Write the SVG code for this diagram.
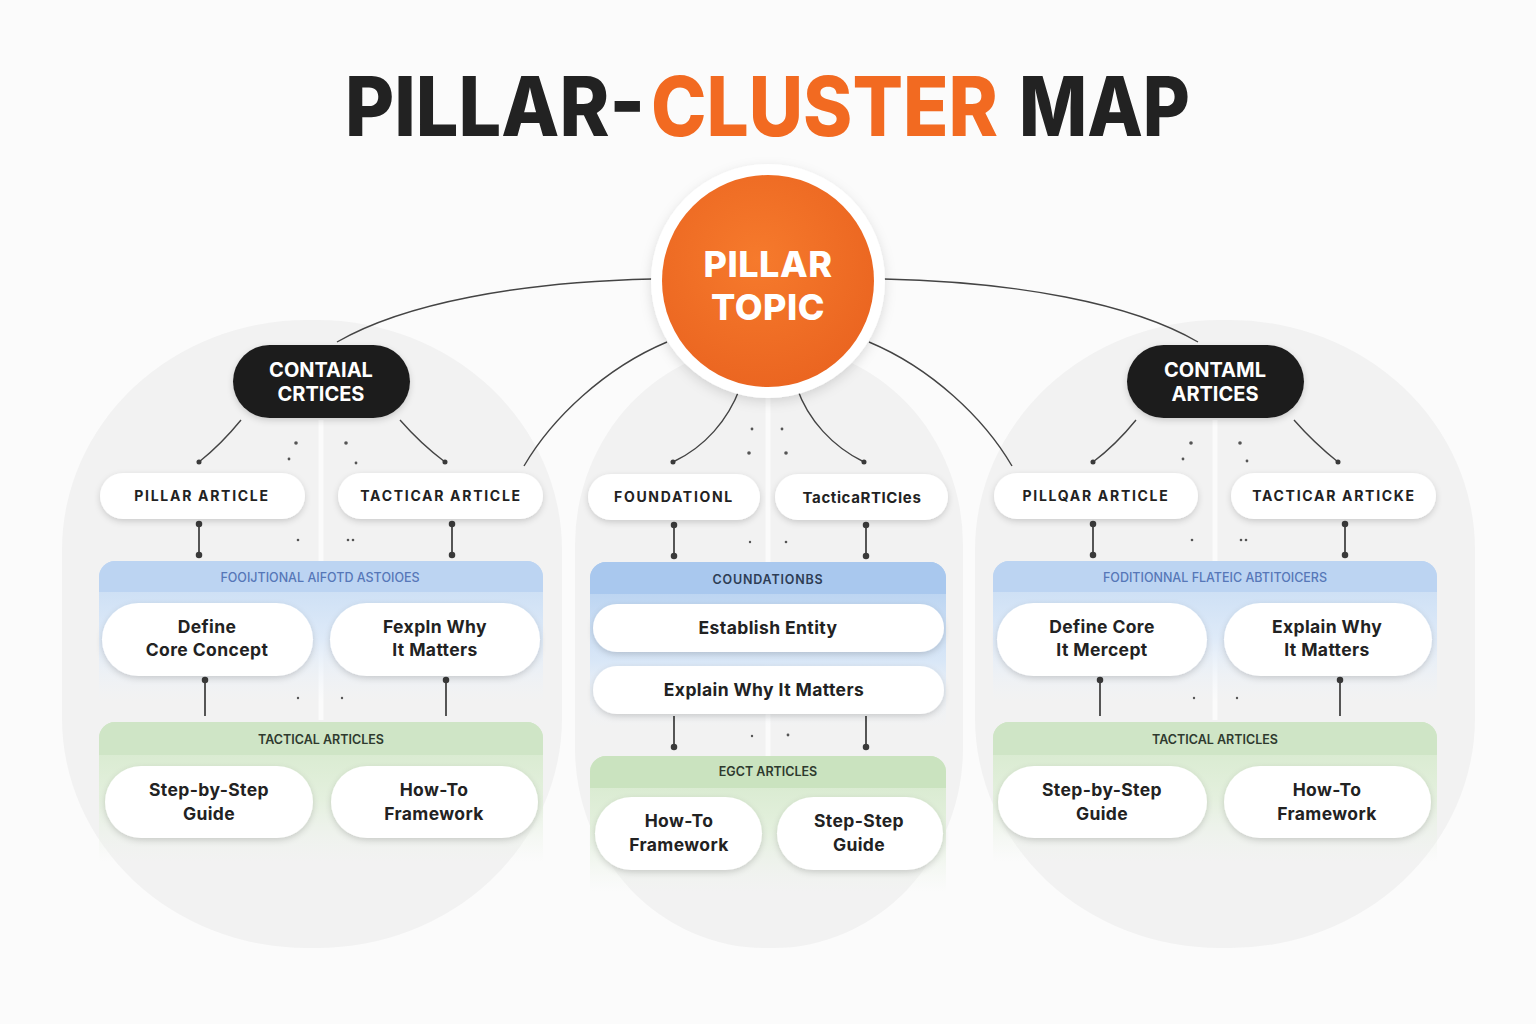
<svg xmlns="http://www.w3.org/2000/svg" width="1536" height="1024" viewBox="0 0 1536 1024">
<style>
.title{font-family:Inter,"Liberation Sans",sans-serif;font-weight:800;font-size:82px}
.dark{fill:#222222}
.orange{fill:#f26a21}
.ptxt{font-family:Inter,"Liberation Sans",sans-serif;font-weight:800;font-size:36px;fill:#ffffff;text-anchor:middle;letter-spacing:0.5px}
.ctxt{font-family:Inter,"Liberation Sans",sans-serif;font-weight:700;font-size:20px;fill:#ffffff;text-anchor:middle}
.lbl{font-family:Inter,"Liberation Sans",sans-serif;font-weight:700;font-size:14px;fill:#222;text-anchor:middle;letter-spacing:1.7px}
.node{font-family:Inter,"Liberation Sans",sans-serif;font-weight:700;font-size:17.5px;fill:#222;text-anchor:middle;letter-spacing:0.4px}
.bhead{font-family:Inter,"Liberation Sans",sans-serif;font-weight:500;font-size:12.5px;fill:#5677b8;text-anchor:middle}
.bhead2{font-family:Inter,"Liberation Sans",sans-serif;font-weight:600;font-size:12.5px;fill:#2e3d55;text-anchor:middle;letter-spacing:0.8px}
.ghead{font-family:Inter,"Liberation Sans",sans-serif;font-weight:600;font-size:12.5px;fill:#2e3a2e;text-anchor:middle}
.pill{fill:#ffffff;filter:url(#sh)}
.arch{fill:#f2f2f2}
.conn{fill:none;stroke:#444;stroke-width:1.4}
.vconn{fill:none;stroke:#444;stroke-width:1.8}
.sdot{fill:#555}
.sep{stroke:#ffffff;stroke-width:5;opacity:0.7}
</style>
<defs>
<filter id="sh" x="-20%" y="-30%" width="140%" height="170%">
<feDropShadow dx="0" dy="2.5" stdDeviation="3" flood-color="#000" flood-opacity="0.16"/>
</filter>
<filter id="shc" x="-30%" y="-30%" width="160%" height="160%">
<feDropShadow dx="0" dy="4" stdDeviation="6" flood-color="#000" flood-opacity="0.13"/>
</filter>
<radialGradient id="og" cx="45%" cy="40%" r="65%">
<stop offset="0" stop-color="#f67a2c"/>
<stop offset="1" stop-color="#ea6420"/>
</radialGradient>
<linearGradient id="bg1" x1="0" y1="0" x2="0" y2="1">
<stop offset="0" stop-color="#c4daf3"/>
<stop offset="0.55" stop-color="#deeaf8"/>
<stop offset="1" stop-color="#eef3f9" stop-opacity="0"/>
</linearGradient>
<linearGradient id="bg2" x1="0" y1="0" x2="0" y2="1">
<stop offset="0" stop-color="#b0cdef"/>
<stop offset="0.6" stop-color="#d9e7f7"/>
<stop offset="1" stop-color="#eef3f9" stop-opacity="0"/>
</linearGradient>
<linearGradient id="gg" x1="0" y1="0" x2="0" y2="1">
<stop offset="0" stop-color="#d3e8c9"/>
<stop offset="0.55" stop-color="#e4f0de"/>
<stop offset="1" stop-color="#eef4ec" stop-opacity="0"/>
</linearGradient>
<marker id="d" viewBox="0 0 10 10" refX="5" refY="5" markerWidth="4" markerHeight="4" markerUnits="strokeWidth">
<circle cx="5" cy="5" r="4.5" fill="#3a3a3a"/>
</marker>
</defs>

<rect width="1536" height="1024" fill="#fbfbfb"/>

<!-- background arches -->
<g id="arches">
<rect class="arch" x="62" y="320" width="500" height="628" rx="245" ry="230"/>
<rect class="arch" x="575" y="345" width="388" height="603" rx="190" ry="200"/>
<rect class="arch" x="975" y="320" width="500" height="628" rx="245" ry="230"/>
<line class="sep" x1="321" y1="420" x2="321" y2="720"/>
<line class="sep" x1="768" y1="390" x2="768" y2="760"/>
<line class="sep" x1="1215" y1="420" x2="1215" y2="720"/>
</g>

<!-- title -->
<g id="title">
<text class="title dark" x="345" y="136" textLength="300" lengthAdjust="spacingAndGlyphs">PILLAR-</text>
<text class="title orange" x="651" y="136" textLength="347" lengthAdjust="spacingAndGlyphs">CLUSTER</text>
<text class="title dark" x="1019" y="136" textLength="171" lengthAdjust="spacingAndGlyphs">MAP</text>
</g>

<!-- panels -->
<g id="panel-left">
<path d="M99,577 a16,16 0 0 1 16,-16 h412 a16,16 0 0 1 16,16 v125 h-444 z" fill="url(#bg1)"/>
<path d="M99,577 a16,16 0 0 1 16,-16 h412 a16,16 0 0 1 16,16 v15 h-444 z" fill="#bcd4f2"/>
<text class="bhead" x="320" y="581.5">FOOIJTIONAL AIFOTD ASTOIOES</text>
<path d="M99,738 a16,16 0 0 1 16,-16 h412 a16,16 0 0 1 16,16 v124 h-444 z" fill="url(#gg)"/>
<path d="M99,738 a16,16 0 0 1 16,-16 h412 a16,16 0 0 1 16,16 v17 h-444 z" fill="#cfe5c6"/>
<text class="ghead" x="321" y="743.5">TACTICAL ARTICLES</text>
</g>
<g id="panel-mid">
<path d="M590,578 a16,16 0 0 1 16,-16 h324 a16,16 0 0 1 16,16 v150 h-356 z" fill="url(#bg2)"/>
<path d="M590,578 a16,16 0 0 1 16,-16 h324 a16,16 0 0 1 16,16 v16 h-356 z" fill="#a9c8ee"/>
<text class="bhead2" x="768" y="583.5">COUNDATIONBS</text>
<path d="M590,772 a16,16 0 0 1 16,-16 h324 a16,16 0 0 1 16,16 v120 h-356 z" fill="url(#gg)"/>
<path d="M590,772 a16,16 0 0 1 16,-16 h324 a16,16 0 0 1 16,16 v16 h-356 z" fill="#cae3bf"/>
<text class="ghead" x="768" y="776">EGCT ARTICLES</text>
</g>
<g id="panel-right">
<path d="M993,577 a16,16 0 0 1 16,-16 h412 a16,16 0 0 1 16,16 v125 h-444 z" fill="url(#bg1)"/>
<path d="M993,577 a16,16 0 0 1 16,-16 h412 a16,16 0 0 1 16,16 v15 h-444 z" fill="#bcd4f2"/>
<text class="bhead" x="1215" y="581.5">FODITIONNAL FLATEIC ABTITOICERS</text>
<path d="M993,738 a16,16 0 0 1 16,-16 h412 a16,16 0 0 1 16,16 v124 h-444 z" fill="url(#gg)"/>
<path d="M993,738 a16,16 0 0 1 16,-16 h412 a16,16 0 0 1 16,16 v17 h-444 z" fill="#cfe5c6"/>
<text class="ghead" x="1215" y="743.5">TACTICAL ARTICLES</text>
</g>

<!-- connectors -->
<g id="connectors">
<path class="conn" d="M652,279 C520,282 405,303 337,342"/>
<path class="conn" d="M884,279 C1016,282 1131,303 1198,342"/>
<path class="conn" d="M667,342 C605,368 552,418 524,466"/>
<path class="conn" d="M869,342 C931,368 984,418 1012,466"/>
<path class="conn" d="M740,388 C728,420 705,447 673,462" marker-end="url(#d)"/>
<path class="conn" d="M797,388 C808,420 833,447 864,462" marker-end="url(#d)"/>
<path class="conn" d="M241,420 C228,436 214,450 199,462" marker-end="url(#d)"/>
<path class="conn" d="M400,420 C414,436 429,450 445,462" marker-end="url(#d)"/>
<path class="conn" d="M1136,420 C1123,436 1109,450 1093,462" marker-end="url(#d)"/>
<path class="conn" d="M1294,420 C1308,436 1323,450 1338,462" marker-end="url(#d)"/>
<path class="vconn" d="M199,524 V555" marker-start="url(#d)" marker-end="url(#d)"/>
<path class="vconn" d="M452,524 V555" marker-start="url(#d)" marker-end="url(#d)"/>
<path class="vconn" d="M674,525 V556" marker-start="url(#d)" marker-end="url(#d)"/>
<path class="vconn" d="M866,525 V556" marker-start="url(#d)" marker-end="url(#d)"/>
<path class="vconn" d="M1093,524 V555" marker-start="url(#d)" marker-end="url(#d)"/>
<path class="vconn" d="M1345,524 V555" marker-start="url(#d)" marker-end="url(#d)"/>
<path class="vconn" d="M205,680 V716" marker-start="url(#d)"/>
<path class="vconn" d="M446,680 V716" marker-start="url(#d)"/>
<path class="vconn" d="M1100,680 V716" marker-start="url(#d)"/>
<path class="vconn" d="M1340,680 V716" marker-start="url(#d)"/>
<path class="vconn" d="M674,716 V747" marker-end="url(#d)"/>
<path class="vconn" d="M866,716 V747" marker-end="url(#d)"/>
<g id="specks">
<circle class="sdot" cx="296" cy="443" r="1.8"/><circle class="sdot" cx="289" cy="459" r="1.4"/>
<circle class="sdot" cx="346" cy="443" r="1.8"/><circle class="sdot" cx="356" cy="463" r="1.4"/>
<circle class="sdot" cx="298" cy="540" r="1.3"/><circle class="sdot" cx="348" cy="540" r="1.3"/><circle class="sdot" cx="353" cy="540" r="1.3"/>
<circle class="sdot" cx="298" cy="698" r="1.2"/><circle class="sdot" cx="342" cy="698" r="1.2"/>
<circle class="sdot" cx="752" cy="429" r="1.4"/><circle class="sdot" cx="782" cy="429" r="1.4"/>
<circle class="sdot" cx="749" cy="453" r="1.8"/><circle class="sdot" cx="786" cy="453" r="1.8"/>
<circle class="sdot" cx="750" cy="542" r="1.2"/><circle class="sdot" cx="786" cy="542" r="1.3"/>
<circle class="sdot" cx="752" cy="736" r="1.2"/><circle class="sdot" cx="788" cy="735" r="1.4"/>
<circle class="sdot" cx="1191" cy="443" r="1.8"/><circle class="sdot" cx="1183" cy="459" r="1.4"/>
<circle class="sdot" cx="1240" cy="443" r="1.8"/><circle class="sdot" cx="1247" cy="461" r="1.4"/>
<circle class="sdot" cx="1192" cy="540" r="1.3"/><circle class="sdot" cx="1241" cy="540" r="1.3"/><circle class="sdot" cx="1246" cy="540" r="1.3"/>
<circle class="sdot" cx="1194" cy="698" r="1.2"/><circle class="sdot" cx="1237" cy="698" r="1.2"/>
</g>
</g>

<!-- pillar topic -->
<g id="pillar-topic">
<circle cx="768" cy="281" r="117" fill="#ffffff" filter="url(#shc)"/>
<circle cx="768" cy="281" r="106" fill="url(#og)"/>
<text class="ptxt" x="768" y="277">PILLAR</text>
<text class="ptxt" x="768" y="320">TOPIC</text>
</g>

<!-- cluster heads -->
<g id="cluster-left">
<rect x="233" y="345" width="177" height="73" rx="36.5" fill="#1e1e1e" filter="url(#sh)"/>
<text class="ctxt" x="321" y="377">CONTAIAL</text>
<text class="ctxt" x="321" y="401">CRTICES</text>
</g>
<g id="cluster-right">
<rect x="1127" y="345" width="177" height="73" rx="36.5" fill="#1e1e1e" filter="url(#sh)"/>
<text class="ctxt" x="1215" y="377">CONTAML</text>
<text class="ctxt" x="1215" y="401">ARTICES</text>
</g>

<!-- row 1 pills -->
<g id="n-pillar-article-l"><rect class="pill" x="100" y="473" width="205" height="46" rx="23"/><text class="lbl" x="202" y="501">PILLAR ARTICLE</text></g>
<g id="n-tacticar-article-l"><rect class="pill" x="338" y="473" width="205" height="46" rx="23"/><text class="lbl" x="441" y="501">TACTICAR ARTICLE</text></g>
<g id="n-foundationl"><rect class="pill" x="588" y="474" width="172" height="46" rx="23"/><text class="lbl" x="674" y="502">FOUNDATIONL</text></g>
<g id="n-tactic"><rect class="pill" x="775" y="474" width="173" height="46" rx="23"/><text class="lbl" x="862" y="503" style="font-size:15px;letter-spacing:0.6px">TacticaRTICIes</text></g>
<g id="n-pillar-article-r"><rect class="pill" x="994" y="473" width="204" height="46" rx="23"/><text class="lbl" x="1096" y="501">PILLQAR ARTICLE</text></g>
<g id="n-tacticar-article-r"><rect class="pill" x="1231" y="473" width="205" height="46" rx="23"/><text class="lbl" x="1334" y="501">TACTICAR ARTICKE</text></g>

<!-- foundational pills -->
<g id="n-define-l"><rect class="pill" x="102" y="603" width="211" height="73" rx="36.5"/><text class="node" x="207" y="633">Define</text><text class="node" x="207" y="656">Core Concept</text></g>
<g id="n-explain-l"><rect class="pill" x="330" y="603" width="210" height="73" rx="36.5"/><text class="node" x="435" y="633">Fexpln Why</text><text class="node" x="435" y="656">It Matters</text></g>
<g id="n-establish"><rect class="pill" x="593" y="604" width="351" height="48" rx="24"/><text class="node" x="768" y="634">Establish Entity</text></g>
<g id="n-explain-m"><rect class="pill" x="593" y="666" width="351" height="48" rx="24"/><text class="node" x="764" y="696">Explain Why It Matters</text></g>
<g id="n-define-r"><rect class="pill" x="997" y="603" width="210" height="73" rx="36.5"/><text class="node" x="1102" y="633">Define Core</text><text class="node" x="1102" y="656">It Mercept</text></g>
<g id="n-explain-r"><rect class="pill" x="1224" y="603" width="208" height="73" rx="36.5"/><text class="node" x="1327" y="633">Explain Why</text><text class="node" x="1327" y="656">It Matters</text></g>

<!-- tactical pills -->
<g id="n-step-l"><rect class="pill" x="105" y="766" width="208" height="72" rx="36"/><text class="node" x="209" y="796">Step-by-Step</text><text class="node" x="209" y="820">Guide</text></g>
<g id="n-howto-l"><rect class="pill" x="331" y="766" width="207" height="72" rx="36"/><text class="node" x="434" y="796">How-To</text><text class="node" x="434" y="820">Framework</text></g>
<g id="n-howto-m"><rect class="pill" x="595" y="797" width="167" height="73" rx="36.5"/><text class="node" x="679" y="827">How-To</text><text class="node" x="679" y="851">Framework</text></g>
<g id="n-step-m"><rect class="pill" x="777" y="797" width="166" height="73" rx="36.5"/><text class="node" x="859" y="827">Step-Step</text><text class="node" x="859" y="851">Guide</text></g>
<g id="n-step-r"><rect class="pill" x="998" y="766" width="209" height="72" rx="36"/><text class="node" x="1102" y="796">Step-by-Step</text><text class="node" x="1102" y="820">Guide</text></g>
<g id="n-howto-r"><rect class="pill" x="1224" y="766" width="207" height="72" rx="36"/><text class="node" x="1327" y="796">How-To</text><text class="node" x="1327" y="820">Framework</text></g>
</svg>
